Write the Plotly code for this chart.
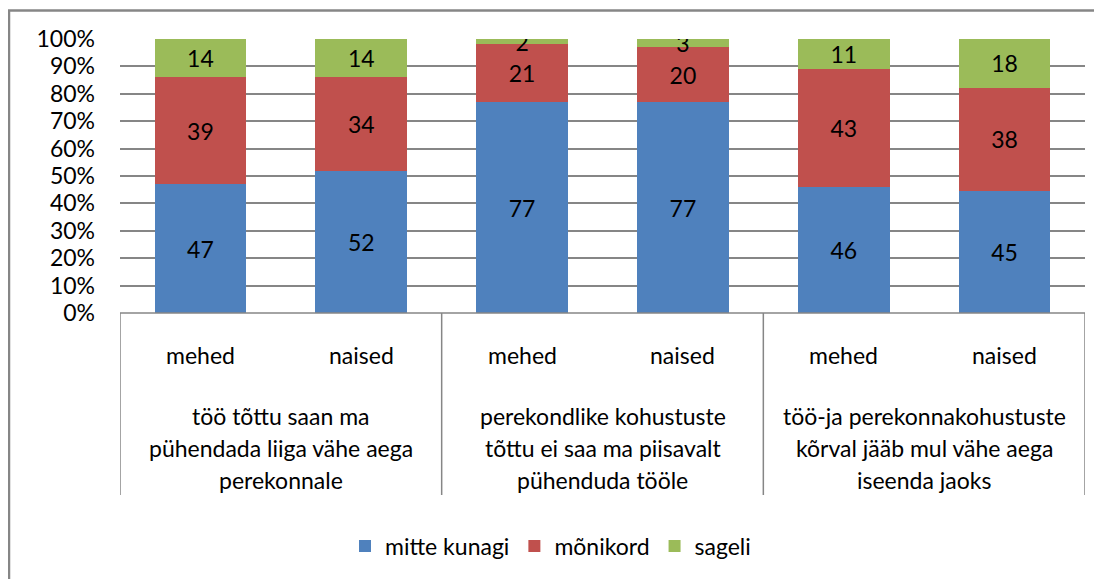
import plotly.graph_objects as go

# data
categories = ["mehed", "naised", "mehed", "naised", "mehed", "naised"]
groups = [
    ["töö tõttu saan ma", "pühendada liiga vähe aega", "perekonnale"],
    ["perekondlike kohustuste", "tõttu ei saa ma piisavalt", "pühenduda tööle"],
    ["töö-ja perekonnakohustuste", "kõrval jääb mul vähe aega", "iseenda jaoks"],
]
mitte_kunagi = [47, 52, 77, 77, 46, 45]
monikord = [39, 34, 21, 20, 43, 38]
sageli = [14, 14, 2, 3, 11, 18]

series = [
    ("mitte kunagi", mitte_kunagi, "#4F81BD"),
    ("mõnikord", monikord, "#C0504D"),
    ("sageli", sageli, "#9BBB59"),
]

FONT = "Lato"
FS = 23
OFF = 8  # page body margin
W, H = 1102 - OFF, 579 - OFF
L, R, T, B = 120, 1085, 39, 313  # plot area in screen pixels


def px(x):
    return (x - L) / (R - L)


def py(y):
    return (B - y) / (B - T)


fig = go.Figure()
xs = list(range(len(categories)))
for name, vals, color in series:
    fig.add_trace(go.Bar(
        x=xs, y=vals, name=name,
        marker=dict(color=color, line=dict(width=0)),
        text=[str(v) for v in vals],
        textposition="inside", insidetextanchor="middle",
        textangle=0, constraintext="none",
        textfont=dict(family=FONT, size=FS, color="black"),
        width=0.57,
    ))

annotations = []
for i, c in enumerate(categories):
    annotations.append(dict(x=i, y=py(355), xref="x", yref="paper", text=c,
                            xanchor="center", yanchor="middle", showarrow=False,
                            font=dict(family=FONT, size=FS, color="black")))
for g, lines in enumerate(groups):
    for k, line in enumerate(lines):
        annotations.append(dict(x=2 * g + 0.5, y=py(416 + 32 * k), xref="x", yref="paper",
                                text=line, xanchor="center", yanchor="middle", showarrow=False,
                                font=dict(family=FONT, size=FS, color="black")))

shapes = []
# outer chart border (left and top edges are the only ones in view)
shapes.append(dict(type="line", xref="paper", yref="paper",
                   x0=px(9), x1=px(9), y0=py(600), y1=py(10),
                   line=dict(color="#868686", width=2.5)))
shapes.append(dict(type="line", xref="paper", yref="paper",
                   x0=px(8), x1=px(1120), y0=py(10.5), y1=py(10.5),
                   line=dict(color="#868686", width=2.5)))
# category table lines
shapes.append(dict(type="line", xref="paper", yref="paper",
                   x0=0, x1=1, y0=0, y1=0, line=dict(color="#868686", width=1.5)))
for xb in [-0.5, 1.5, 3.5, 5.5]:
    shapes.append(dict(type="line", xref="x", yref="paper",
                       x0=xb, x1=xb, y0=0, y1=py(495), line=dict(color="#868686", width=1.5)))

fig.update_layout(
    width=W, height=H,
    margin=dict(l=L - OFF, r=W + OFF - R, t=T - OFF, b=H + OFF - B, autoexpand=False),
    barmode="stack", barnorm="percent",
    plot_bgcolor="white", paper_bgcolor="white",
    font=dict(family=FONT, size=FS, color="black"),
    xaxis=dict(range=[-0.5, 5.5], showticklabels=False, showgrid=False,
               zeroline=False, showline=False),
    yaxis=dict(range=[0, 100], dtick=10, ticksuffix="%", showgrid=True,
               gridcolor="#868686", gridwidth=1.5, zeroline=False, showline=False,
               ticks="", ticklabelstandoff=24,
               tickfont=dict(family=FONT, size=FS, color="black")),
    legend=dict(orientation="h", x=px(345), xanchor="left", y=py(546), yanchor="middle",
                font=dict(family=FONT, size=FS, color="black"),
                itemsizing="constant", traceorder="normal"),
    annotations=annotations,
    shapes=shapes,
    showlegend=True,
)

fig.write_html("out.html")
